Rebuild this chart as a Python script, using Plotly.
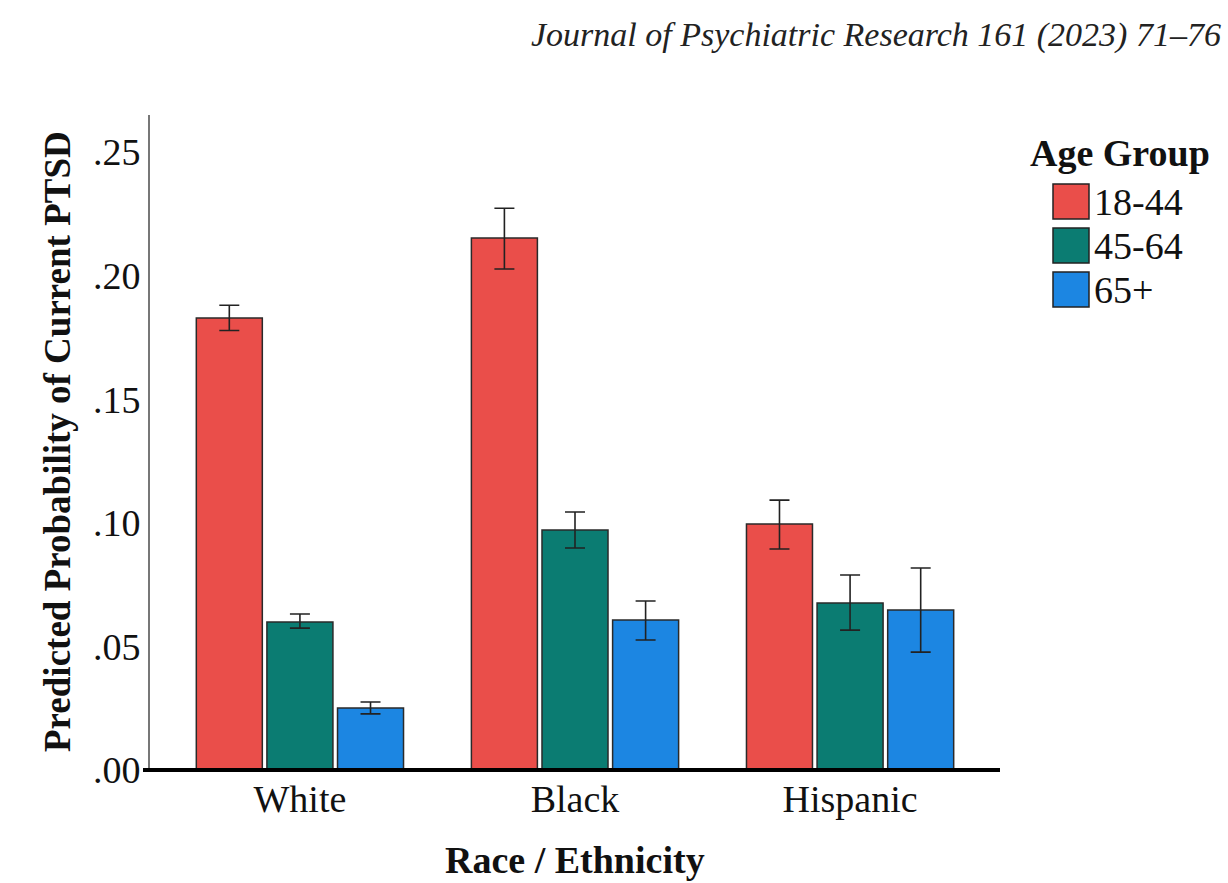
import plotly.graph_objects as go

categories = ["White", "Black", "Hispanic"]
age_groups = ["18-44", "45-64", "65+"]
values = {
    "18-44": [0.1829, 0.2152, 0.0995],
    "45-64": [0.0599, 0.0971, 0.0676],
    "65+":   [0.0251, 0.0607, 0.0647],
}
err_upper = {
    "18-44": [0.1880, 0.2273, 0.1092],
    "45-64": [0.0631, 0.1044, 0.0789],
    "65+":   [0.0275, 0.0684, 0.0817],
}
err_lower = {
    "18-44": [0.1778, 0.2027, 0.0894],
    "45-64": [0.0574, 0.0898, 0.0566],
    "65+":   [0.0227, 0.0526, 0.0477],
}
colors = {"18-44": "#EA4E4A", "45-64": "#0B7C72", "65+": "#1C86E2"}
y_ticks = [0, 0.05, 0.10, 0.15, 0.20, 0.25]
y_tick_labels = [".00", ".05", ".10", ".15", ".20", ".25"]

SERIF = "Liberation Serif, Times New Roman, serif"
FS = 38

fig = go.Figure()
for g in age_groups:
    v = values[g]
    up = [u - x for u, x in zip(err_upper[g], v)]
    lo = [x - l for l, x in zip(err_lower[g], v)]
    fig.add_trace(go.Bar(
        x=categories, y=v, name=g,
        marker=dict(color=colors[g], line=dict(color="#2a2a2a", width=1.5)),
        error_y=dict(type="data", symmetric=False, array=up, arrayminus=lo,
                     color="#222222", thickness=1.6, width=10),
        showlegend=False,
    ))

# plot area in pixels
L, R, T, B = 150, 1000, 115, 770
W, H = R - L, B - T

def px(x):
    return (x - L) / W

def py(y):
    return (B - y) / H

shapes = []
annotations = []
# manual legend
annotations.append(dict(text="<b>Age Group</b>", x=px(1028), y=py(153), xref="paper", yref="paper",
                        xanchor="left", yanchor="middle", showarrow=False,
                        font=dict(family=SERIF, size=FS, color="#111")))
sw_top = [184, 228, 272]
for g, t in zip(age_groups, sw_top):
    shapes.append(dict(type="rect", xref="paper", yref="paper",
                       x0=px(1053), x1=px(1089), y0=py(t + 35), y1=py(t),
                       fillcolor=colors[g], line=dict(color="#222", width=1.5)))
    annotations.append(dict(text=g, x=px(1092), y=py(t + 18), xref="paper", yref="paper",
                            xanchor="left", yanchor="middle", showarrow=False,
                            font=dict(family=SERIF, size=FS, color="#111")))

# journal header
annotations.append(dict(text="<i>Journal of Psychiatric Research 161 (2023) 71–76</i>",
                        x=px(1223), y=py(35), xref="paper", yref="paper",
                        xanchor="right", yanchor="middle", showarrow=False,
                        font=dict(family=SERIF, size=34, color="#222")))

# axis titles
annotations.append(dict(text="<b>Predicted Probability of Current PTSD</b>",
                        x=px(57), y=py(442), xref="paper", yref="paper", textangle=-90,
                        xanchor="center", yanchor="middle", showarrow=False,
                        font=dict(family=SERIF, size=37, color="#111")))
annotations.append(dict(text="<b>Race / Ethnicity</b>",
                        x=px(575), y=py(860), xref="paper", yref="paper",
                        xanchor="center", yanchor="middle", showarrow=False,
                        font=dict(family=SERIF, size=FS, color="#111")))

# x axis thick baseline
shapes.append(dict(type="line", xref="paper", yref="paper", x0=px(143), x1=1.0, y0=0, y1=0,
                   line=dict(color="black", width=4)))

fig.update_layout(
    width=1228, height=883,
    margin=dict(l=L, r=1228 - R, t=T, b=883 - B),
    paper_bgcolor="white", plot_bgcolor="white",
    barmode="group", bargap=0.23, bargroupgap=0.065,
    shapes=shapes, annotations=annotations,
    xaxis=dict(range=[-0.545, 2.545], showline=False, ticks="", showgrid=False,
               ticklabelstandoff=3,
               tickfont=dict(family=SERIF, size=FS, color="#111")),
    yaxis=dict(range=[0, 0.265], tickvals=y_ticks, ticktext=y_tick_labels,
               showline=True, linecolor="#777", linewidth=2, ticks="", showgrid=False, zeroline=False,
               ticklabelstandoff=0,
               tickfont=dict(family=SERIF, size=FS, color="#111")),
)

fig.write_html("out.html", config={"displayModeBar": False},
               post_script="document.body.style.margin='0';")
